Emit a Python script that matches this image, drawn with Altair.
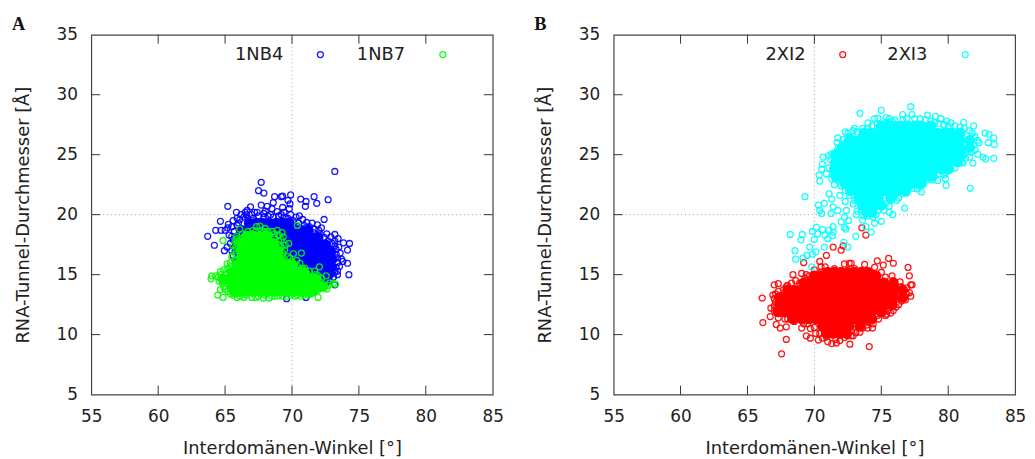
import altair as alt
import pandas as pd

FONT = "DejaVu Sans"
INK = "#222222"
XTICKS = [60, 65, 70, 75, 80]
YTICKS = [10, 15, 20, 25, 30]

# dense bodies of the clouds, read row by row: (tunnel diameter, [angles])
BLUE_BODY = [
 (19.3, [66.8, 67.3, 67.8, 68.3, 68.8, 69.3, 69.8]),
 (18.7, [66.2, 66.7, 67.2, 67.7, 68.2, 68.7, 69.2, 69.7, 70.2, 70.7, 71.2]),
 (18.1, [65.95, 66.45, 66.95, 67.45, 67.95, 68.45, 68.95, 69.45, 69.95, 70.45, 70.95, 71.45, 71.95]),
 (17.5, [66.0, 66.5, 67.0, 67.5, 68.0, 68.5, 69.0, 69.5, 70.0, 70.5, 71.0, 71.5, 72.0, 72.5]),
 (16.9, [66.1, 66.6, 67.1, 67.6, 68.1, 68.6, 69.1, 69.6, 70.1, 70.6, 71.1, 71.6, 72.1, 72.6, 72.9]),
 (16.3, [66.2, 66.7, 67.2, 67.7, 68.2, 68.7, 69.2, 69.7, 70.2, 70.7, 71.2, 71.7, 72.2, 72.7, 73.0]),
 (15.7, [66.4, 66.9, 67.4, 67.9, 68.4, 68.9, 69.4, 69.9, 70.4, 70.9, 71.4, 71.9, 72.4, 72.9]),
 (15.1, [68.0, 68.5, 69.0, 69.5, 70.0, 70.5, 71.0, 71.5, 72.0, 72.5, 72.8]),
 (14.5, [70.5, 71.0, 71.5, 72.0, 72.5]),
]
BLUE_RINGS = [
 (73.2, 23.6), (67.7, 22.7), (67.5, 22.0), (67.9, 21.8), (68.7, 21.5), (69.2, 21.5), (69.3, 21.55), (69.9, 21.65),
 (70.65, 21.3), (71.05, 21.1), (71.0, 20.7), (71.65, 21.5), (71.85, 20.95), (72.7, 21.25), (65.2, 20.7), (67.7, 20.8),
 (68.15, 20.7), (68.6, 21.0), (68.5, 20.5), (69.7, 21.2), (69.85, 20.9), (69.3, 20.6), (69.8, 20.5), (66.9, 20.65),
 (65.85, 20.2), (66.65, 20.35), (64.65, 19.45), (64.3, 18.7), (63.7, 18.2), (64.2, 17.45), (64.95, 17.0), (65.15, 17.3),
 (65.25, 19.2), (64.7, 18.7), (72.4, 19.6), (70.55, 19.9), (73.2, 18.35), (73.45, 18.0), (73.85, 17.65), (74.3, 17.6),
 (74.15, 17.05), (74.15, 15.95), (74.25, 15.0), (73.8, 16.1), (73.4, 15.0), (73.2, 14.15), (69.6, 13.0), (71.05, 13.1),
 (65.3, 18.3), (65.0, 18.7), (65.6, 19.5), (65.9, 19.7), (66.2, 20.0), (66.5, 20.2), (67.0, 20.0), (67.4, 20.2),
 (67.9, 20.1), (68.4, 20.0), (68.9, 20.25), (69.4, 20.2), (69.9, 20.0), (70.3, 19.8), (70.8, 19.6), (71.1, 19.35),
 (71.5, 19.3), (71.9, 19.15), (72.2, 18.9), (72.6, 18.4), (72.9, 18.15), (73.2, 17.8), (73.5, 17.3), (73.6, 16.8),
 (73.7, 16.3), (73.55, 15.7), (73.4, 15.3), (73.1, 14.8), (72.8, 14.5), (72.5, 14.2), (65.4, 17.6), (65.5, 17.0),
 (65.6, 16.6), (65.8, 16.0), (65.2, 18.9), (66.0, 19.3), (72.0, 18.7), (73.3, 17.1),
 (65.5, 19.0), (65.7, 18.6), (65.5, 18.2), (65.6, 17.9), (65.7, 17.3), (65.75, 16.9), (65.9, 19.1), (66.1, 19.6),
 (66.4, 19.8), (66.7, 19.7), (67.1, 19.7), (67.5, 19.9), (67.9, 19.8), (68.2, 19.9), (68.6, 19.8), (69.0, 19.9),
 (69.4, 19.8), (69.7, 19.7), (70.1, 19.5), (70.5, 19.3), (70.9, 19.1), (71.3, 19.0), (71.7, 18.8), (71.6, 18.5),
 (72.1, 18.4), (72.4, 18.1), (72.7, 17.8), (73.0, 17.6), (73.2, 17.4), (73.3, 16.7), (73.4, 16.4), (73.4, 16.0),
 (73.3, 15.6), (73.2, 15.2), (73.0, 15.4), (70.4, 19.0), (69.2, 20.0), (68.0, 20.3), (67.2, 20.2), (66.6, 20.0),
]
GREEN_BODY = [
 (18.2, [66.6, 67.1, 67.6, 68.1]),
 (17.6, [66.3, 66.8, 67.3, 67.8, 68.3, 68.6]),
 (17.0, [66.2, 66.7, 67.2, 67.7, 68.2, 68.7, 68.9]),
 (16.4, [66.2, 66.7, 67.2, 67.7, 68.2, 68.7, 69.0]),
 (15.8, [65.9, 66.4, 66.9, 67.4, 67.9, 68.4, 68.9, 69.4, 70.0]),
 (15.2, [65.5, 66.0, 66.5, 67.0, 67.5, 68.0, 68.5, 69.0, 69.5, 70.0, 70.5, 70.9]),
 (14.6, [64.9, 65.2, 65.7, 66.2, 66.7, 67.2, 67.7, 68.2, 68.7, 69.2, 69.7, 70.2, 70.7, 71.4, 71.8]),
 (14.0, [65.5, 66.0, 66.5, 67.0, 67.5, 68.0, 68.5, 69.0, 69.5, 70.0, 70.5, 71.0, 71.5, 72.2]),
 (13.6, [65.7, 66.1, 66.6, 67.1, 67.6, 68.1, 68.6, 69.1, 69.6, 70.1, 70.6, 71.1, 71.5]),
]
GREEN_RINGS = [
 (66.1, 18.8), (70.4, 19.1), (67.35, 19.0), (67.6, 19.05), (68.0, 18.85), (68.5, 18.6), (68.9, 18.7), (69.25, 18.5),
 (66.95, 18.4), (66.6, 18.3), (65.85, 18.2), (64.85, 17.85), (69.2, 17.9), (69.75, 17.6), (65.6, 17.45), (70.7, 16.8),
 (70.1, 16.75), (70.35, 16.2), (69.85, 16.35), (72.05, 15.65), (71.7, 15.3), (71.95, 14.9), (72.55, 14.9), (73.25, 14.2),
 (72.6, 13.8), (73.1, 14.3), (72.8, 14.3), (72.45, 14.15), (71.95, 13.1), (70.65, 13.2), (64.85, 13.1), (64.45, 13.3),
 (63.95, 14.65), (64.0, 14.9), (64.3, 14.9), (64.65, 15.25), (65.15, 15.9), (65.5, 16.5), (65.4, 15.7), (64.55, 14.45),
 (64.65, 13.75), (65.9, 13.1), (66.4, 13.1), (67.85, 13.05), (68.3, 13.05), (69.0, 13.25), (71.2, 13.75), (71.55, 14.3),
 (70.95, 15.55), (70.6, 15.95), (69.7, 16.5), (69.45, 17.05), (69.5, 17.45), (69.35, 18.15), (65.8, 17.9), (65.7, 17.0),
 (65.9, 18.0), (66.3, 18.4), (67.1, 18.7), (67.9, 18.6), (68.3, 18.3), (68.7, 18.1), (69.0, 18.3), (69.0, 17.5),
 (69.3, 16.8), (69.4, 16.2), (70.1, 15.8), (70.5, 15.4), (71.1, 15.1), (71.5, 14.8), (72.1, 14.4), (72.3, 14.0),
 (71.9, 13.7), (71.4, 13.4), (70.9, 13.3), (70.2, 13.2), (69.6, 13.2), (68.7, 13.2), (67.5, 13.2), (67.0, 13.1),
 (66.1, 13.2), (65.6, 13.3), (65.2, 13.6), (64.9, 14.0), (64.7, 14.6), (65.0, 15.0),
 (65.9, 17.6), (65.8, 17.3), (65.8, 16.7), (65.7, 16.2), (65.4, 16.0), (65.2, 15.5), (64.9, 15.4), (64.7, 15.0),
 (64.5, 14.8), (64.8, 14.3), (65.0, 13.8), (65.4, 13.4), (65.8, 13.4), (66.6, 13.3), (67.3, 13.1), (68.0, 13.3),
 (68.5, 13.2), (69.3, 13.2), (69.9, 13.3), (70.4, 13.3), (71.2, 13.3), (71.7, 13.6), (72.1, 13.9), (72.4, 13.9),
 (72.7, 14.1), (72.2, 14.7), (71.8, 15.0), (71.3, 15.3), (70.8, 15.5), (70.4, 15.7), (70.0, 16.1), (69.6, 16.0),
 (69.3, 16.5), (69.1, 17.0), (69.2, 17.3), (69.0, 17.8), (68.7, 18.4), (68.2, 18.6), (67.7, 18.7), (67.3, 18.6),
 (66.7, 18.6), (66.4, 18.1), (66.0, 17.8),
]
RED_BODY = [
 (15.2, [71.0, 71.5, 72.0, 72.5, 73.0, 73.5, 74.0]),
 (14.9, [70.0, 70.5, 71.0, 71.5, 72.0, 72.5, 73.0, 73.5, 74.0, 74.6]),
 (14.3, [69.2, 69.7, 70.2, 70.7, 71.2, 71.7, 72.2, 72.7, 73.2, 73.7, 74.2, 74.7, 75.2, 75.9]),
 (13.7, [68.0, 68.5, 69.0, 69.5, 70.0, 70.5, 71.0, 71.5, 72.0, 72.5, 73.0, 73.5, 74.0, 74.5, 75.0, 75.5, 76.0, 76.6]),
 (13.1, [67.4, 67.9, 68.4, 68.9, 69.4, 69.9, 70.4, 70.9, 71.4, 71.9, 72.4, 72.9, 73.4, 73.9, 74.4, 74.9, 75.4, 75.9, 76.6]),
 (12.5, [67.4, 67.9, 68.4, 68.9, 69.4, 69.9, 70.4, 70.9, 71.4, 71.9, 72.4, 72.9, 73.4, 73.9, 74.4, 74.9, 75.4, 75.8]),
 (11.9, [67.3, 67.8, 68.3, 68.8, 69.3, 69.8, 70.3, 70.8, 71.3, 71.8, 72.3, 72.8, 73.3, 73.8, 74.3, 75.0]),
 (11.3, [68.4, 69.1, 69.6, 70.1, 70.6, 71.1, 71.6, 72.1, 72.6, 73.1, 73.6, 74.3]),
 (10.7, [70.6, 71.1, 71.6, 72.1, 72.6, 73.4]),
 (10.1, [70.9, 71.4, 71.9, 72.4]),
]
RED_RINGS = [
 (67.55, 8.4), (66.15, 11.0), (66.1, 13.05), (67.9, 9.6), (72.65, 9.2), (74.1, 9.0), (77.2, 14.15), (77.0, 15.6),
 (77.1, 14.9), (77.3, 14.15), (77.2, 13.2), (75.55, 16.35), (75.9, 15.95), (74.7, 16.15), (75.15, 15.8), (72.6, 15.95),
 (72.75, 15.95), (72.25, 15.9), (73.75, 15.85), (70.4, 16.1), (70.5, 15.65), (70.8, 15.65), (69.2, 16.0), (68.4, 15.0),
 (69.05, 15.1), (67.0, 14.15), (67.3, 14.25), (70.9, 16.6), (71.4, 17.3), (72.0, 17.05), (72.15, 17.4), (73.55, 18.9),
 (73.85, 18.3), (73.6, 10.55), (74.0, 10.55), (74.35, 10.55), (74.0, 11.1), (75.4, 11.7), (75.7, 11.8), (73.1, 10.15),
 (72.75, 9.9), (72.25, 9.75), (71.3, 9.25), (71.65, 9.3), (70.3, 9.55), (69.4, 9.9), (69.7, 9.7), (69.05, 10.55),
 (67.9, 10.65), (67.45, 10.55), (67.15, 10.85), (66.7, 11.5), (66.75, 12.2), (66.9, 13.3), (67.7, 13.75), (68.3, 14.3),
 (69.4, 15.0), (70.0, 15.4), (71.0, 15.3), (72.0, 15.3), (73.0, 15.5), (74.0, 15.3), (75.0, 15.2), (75.8, 14.9),
 (76.4, 14.4), (76.9, 13.9), (77.1, 13.5), (76.8, 12.9), (76.3, 12.5), (75.9, 12.0), (75.3, 11.6), (74.8, 11.3),
 (74.4, 10.9), (73.9, 10.8), (73.4, 10.2), (72.9, 9.9), (71.9, 9.5), (71.0, 9.4), (70.6, 9.7), (70.1, 10.1),
 (69.7, 10.5), (69.2, 10.9), (68.5, 11.1), (68.0, 11.3), (67.3, 11.4), (67.0, 12.0), (67.1, 12.7), (67.3, 13.6),
 (67.9, 14.0), (68.6, 14.5), (69.6, 14.9), (71.5, 15.5), (74.5, 15.6),
 (68.0, 14.1), (68.9, 14.3), (69.3, 14.7), (70.5, 15.2), (71.4, 15.2), (72.5, 15.3), (73.4, 15.2), (74.3, 15.1),
 (75.3, 14.8), (75.9, 14.5), (76.5, 14.0), (76.9, 13.4), (76.5, 12.8), (76.1, 12.3), (75.5, 12.0), (75.2, 11.9),
 (74.7, 11.6), (74.3, 11.3), (73.8, 11.1), (73.3, 10.7), (72.8, 10.3), (72.5, 9.9), (71.6, 9.6), (70.9, 9.8),
 (70.4, 10.1), (70.0, 10.6), (69.5, 10.9), (69.0, 11.2), (68.5, 11.5), (67.8, 11.3), (67.2, 11.8), (67.0, 12.4),
 (67.0, 13.0), (67.1, 13.4),
]
CYAN_BODY = [
 (27.4, [75.0, 75.5, 76.0, 76.5, 77.0, 77.5, 78.0, 78.7]),
 (26.8, [73.7, 74.2, 74.7, 75.2, 75.7, 76.2, 76.7, 77.2, 77.7, 78.2, 78.7, 79.2, 79.7, 80.2, 80.9]),
 (26.2, [72.6, 72.9, 73.4, 73.9, 74.4, 74.9, 75.4, 75.9, 76.4, 76.9, 77.4, 77.9, 78.4, 78.9, 79.4, 79.9, 80.4, 80.9, 81.6]),
 (25.6, [72.1, 72.4, 72.9, 73.4, 73.9, 74.4, 74.9, 75.4, 75.9, 76.4, 76.9, 77.4, 77.9, 78.4, 78.9, 79.4, 79.9, 80.4, 80.9, 81.6]),
 (25.0, [71.6, 71.9, 72.4, 72.9, 73.4, 73.9, 74.4, 74.9, 75.4, 75.9, 76.4, 76.9, 77.4, 77.9, 78.4, 78.9, 79.4, 79.9, 80.4, 81.0]),
 (24.4, [71.6, 72.1, 72.6, 73.1, 73.6, 74.1, 74.6, 75.1, 75.6, 76.1, 76.6, 77.1, 77.6, 78.1, 78.6, 79.1, 79.6, 80.1, 80.7]),
 (23.8, [71.5, 72.0, 72.5, 73.0, 73.5, 74.0, 74.5, 75.0, 75.5, 76.0, 76.5, 77.0, 77.5, 78.0, 78.5, 79.0, 79.5, 80.0]),
 (23.2, [71.6, 71.8, 72.3, 72.8, 73.3, 73.8, 74.3, 74.8, 75.3, 75.8, 76.3, 76.8, 77.3, 77.8, 78.3, 78.8]),
 (22.6, [72.3, 72.8, 73.3, 73.8, 74.3, 74.8, 75.3, 75.8, 76.3, 76.8, 77.3, 78.0]),
 (22.0, [72.7, 73.2, 73.7, 74.2, 74.7, 75.2, 75.7, 76.2, 76.8]),
 (21.4, [73.3, 73.8, 74.3, 74.8, 75.7]),
 (20.8, [73.6, 74.1, 74.6, 75.0]),
 (20.2, [73.9, 74.3]),
]
CYAN_RINGS = [
 (77.2, 29.0), (73.4, 28.45), (75.0, 28.7), (76.6, 28.35), (77.3, 28.35), (78.45, 28.3), (79.05, 28.2), (79.45, 28.0),
 (79.9, 27.8), (80.2, 27.65), (81.15, 27.7), (81.9, 27.4), (82.75, 26.8), (83.05, 26.7), (83.4, 26.4), (83.45, 25.85),
 (83.0, 26.0), (83.4, 24.7), (82.8, 24.65), (82.6, 24.8), (82.2, 25.05), (81.85, 24.3), (81.65, 22.2), (79.85, 22.45),
 (79.8, 23.0), (79.2, 22.85), (78.55, 23.4), (78.0, 21.9), (77.7, 22.15), (76.75, 20.55), (76.9, 21.8), (76.6, 21.75),
 (76.15, 21.2), (75.85, 20.0), (75.0, 19.45), (74.25, 18.55), (73.85, 19.0), (73.1, 18.2), (74.5, 19.3), (75.6, 20.2),
 (75.2, 20.35), (74.5, 28.0), (74.0, 27.65), (74.75, 28.05), (75.35, 28.1), (75.6, 28.0), (69.3, 21.5), (68.2, 18.35),
 (69.1, 18.35), (69.0, 17.9), (68.55, 17.0), (68.6, 16.3), (69.15, 16.4), (69.45, 16.6), (69.8, 15.65), (69.65, 17.3),
 (70.0, 17.95), (69.85, 18.6), (70.15, 18.95), (70.25, 18.4), (70.6, 18.75), (71.1, 18.7), (71.4, 19.0), (70.8, 18.3),
 (71.0, 18.0), (71.35, 18.25), (71.4, 18.55), (70.75, 17.3), (70.1, 16.9), (69.85, 16.7), (72.2, 17.7), (72.5, 17.3),
 (72.25, 18.95), (72.35, 18.8), (72.0, 19.4), (72.55, 19.5), (70.3, 20.8), (70.75, 20.95), (70.4, 20.35), (70.55, 20.1),
 (71.25, 20.1), (71.4, 20.65), (71.75, 20.35), (72.4, 20.35), (72.25, 19.8), (73.15, 20.0), (73.6, 19.55), (71.1, 21.75),
 (71.3, 21.3), (70.9, 23.4), (70.35, 23.3), (70.4, 22.8), (70.55, 23.8), (70.6, 24.2), (70.65, 24.8), (71.05, 24.9),
 (71.75, 26.4), (71.7, 26.0), (72.3, 26.9), (73.0, 27.2), (71.5, 22.5), (71.9, 21.6), (72.3, 21.1), (72.9, 20.9),
 (73.2, 20.3), (74.0, 19.9), (74.6, 20.0), (75.3, 20.9), (76.0, 21.6), (77.0, 22.2), (78.1, 22.7), (78.9, 23.1),
 (79.8, 23.5), (80.5, 23.9), (81.1, 24.3), (81.6, 24.8), (82.0, 25.4), (82.3, 26.0), (82.0, 26.5), (81.6, 27.0),
 (80.9, 27.3), (80.0, 27.4), (79.0, 27.7), (78.3, 27.9), (77.5, 28.0), (76.6, 27.9), (75.8, 27.8), (75.0, 27.5),
 (74.0, 27.2), (73.2, 26.9), (72.6, 26.5), (72.1, 25.9), (71.7, 25.3), (71.2, 24.6), (71.1, 23.9), (71.3, 23.0),
 (71.4, 24.2), (71.3, 25.1), (71.8, 25.6), (72.2, 26.3), (72.5, 26.8), (72.9, 27.0), (73.6, 27.2), (74.3, 27.4),
 (74.7, 27.6), (75.3, 27.7), (76.0, 27.9), (76.9, 28.0), (77.9, 28.0), (78.7, 27.8), (79.3, 27.6), (79.7, 27.5),
 (80.5, 27.4), (81.2, 27.2), (81.8, 26.8), (82.2, 26.2), (81.9, 25.8), (81.7, 25.2), (81.3, 24.7), (81.0, 24.4),
 (80.6, 24.3), (80.2, 23.8), (79.7, 23.3), (79.3, 23.4), (78.8, 22.9), (78.4, 22.9), (77.9, 22.4), (77.4, 22.2),
 (76.6, 22.0), (76.3, 21.4), (75.7, 21.2), (75.6, 20.7), (75.1, 20.7), (74.8, 20.4), (74.4, 19.8), (73.7, 19.9),
 (73.5, 20.4), (73.4, 20.9), (73.0, 21.2), (72.6, 21.6), (72.3, 22.0), (72.0, 22.4), (71.7, 22.9), (71.4, 23.4),
]
LEGEND_TEXT_X = [69.35, 78.45]
LEGEND_RING_X = [72.12, 81.27]
LEGEND_Y = 33.35
PANELS = [
 dict(letter="A", names=["1NB4", "1NB7"], colors=["#0000ff", "#00ff00"],
      bodies=[BLUE_BODY, GREEN_BODY], rings=[BLUE_RINGS, GREEN_RINGS]),
 dict(letter="B", names=["2XI2", "2XI3"], colors=["#ff0000", "#00ffff"],
      bodies=[RED_BODY, CYAN_BODY], rings=[RED_RINGS, CYAN_RINGS]),
]

W, H = 405, 363
X = alt.Scale(domain=[55, 85], nice=False)
Y = alt.Scale(domain=[5, 35], nice=False)
COMMON = dict(ticks=False, domain=False, grid=False, labelFlush=False,
              labelFont=FONT, labelFontSize=17, labelColor=INK, labelOverlap=False,
              titleFont=FONT, titleFontSize=18, titleColor=INK, titleFontWeight="normal")
XAXIS = alt.Axis(title="Interdomänen-Winkel [°]", values=[55, 60, 65, 70, 75, 80, 85],
                 labelPadding=14, titlePadding=15, **COMMON)
YAXIS = alt.Axis(title="RNA-Tunnel-Durchmesser [Å]", values=[5, 10, 15, 20, 25, 30, 35],
                 labelPadding=14, titlePadding=24, **COMMON)


def xe():
    return alt.X("x:Q", scale=X, axis=XAXIS)


def ye():
    return alt.Y("y:Q", scale=Y, axis=YAXIS)


def panel(p):
    layers = []
    base = alt.Chart(pd.DataFrame({"x": [70.0], "y": [20.0]}))
    layers.append(base.mark_rule(color="#a0a0a0", strokeWidth=1, strokeDash=[1, 3]).encode(x=xe()))
    layers.append(base.mark_rule(color="#a0a0a0", strokeWidth=1, strokeDash=[1, 3]).encode(y=ye()))
    for body, rings, color in zip(p["bodies"], p["rings"], p["colors"]):
        bdf = pd.DataFrame([{"x": x, "y": y} for y, xs in body for x in xs])
        rdf = pd.DataFrame(rings, columns=["x", "y"])
        layers.append(alt.Chart(bdf).mark_point(shape="circle", filled=True, size=120, color=color, opacity=1, strokeWidth=0)
                      .encode(x=xe(), y=ye()))
        layers.append(alt.Chart(rdf).mark_point(shape="circle", filled=False, size=36, color=color, opacity=0.9, strokeWidth=1.3)
                      .encode(x=xe(), y=ye()))
    for i in range(2):
        d = pd.DataFrame({"x": [LEGEND_TEXT_X[i]], "y": [LEGEND_Y], "t": [p["names"][i]]})
        layers.append(alt.Chart(d).mark_text(font=FONT, fontSize=18, color=INK, align="right", baseline="middle")
                      .encode(x=xe(), y=ye(), text="t:N"))
        d = pd.DataFrame({"x": [LEGEND_RING_X[i]], "y": [LEGEND_Y]})
        layers.append(alt.Chart(d).mark_point(shape="circle", filled=False, size=36, color=p["colors"][i], opacity=0.9, strokeWidth=1.3)
                      .encode(x=xe(), y=ye()))
    xt = alt.Chart(pd.DataFrame({"x": XTICKS}))
    yt = alt.Chart(pd.DataFrame({"y": YTICKS}))
    tick = dict(color="#333333", strokeWidth=1)
    layers.append(xt.mark_rule(**tick).encode(x=xe(), y=alt.value(H), y2=alt.value(H - 9)))
    layers.append(xt.mark_rule(**tick).encode(x=xe(), y=alt.value(0), y2=alt.value(9)))
    layers.append(yt.mark_rule(**tick).encode(y=ye(), x=alt.value(0), x2=alt.value(9)))
    layers.append(yt.mark_rule(**tick).encode(y=ye(), x=alt.value(W), x2=alt.value(W - 9)))
    lab = pd.DataFrame({"t": [p["letter"]]})
    layers.append(alt.Chart(lab).mark_text(font="Liberation Serif", fontWeight="bold", fontSize=18.5, color="#111111", align="left", baseline="middle")
                  .encode(x=alt.value(-80), y=alt.value(-11), text="t:N"))
    return alt.layer(*layers).properties(width=W, height=H)


chart = (
    alt.hconcat(panel(PANELS[0]), panel(PANELS[1]), spacing=29)
    .properties(padding={"left": 3, "top": 4, "right": 0, "bottom": 0}, background="white")
    .configure_view(stroke="#444444", strokeWidth=1.2)
)
chart.save("out.html", embed_options={"renderer": "svg", "actions": False})
